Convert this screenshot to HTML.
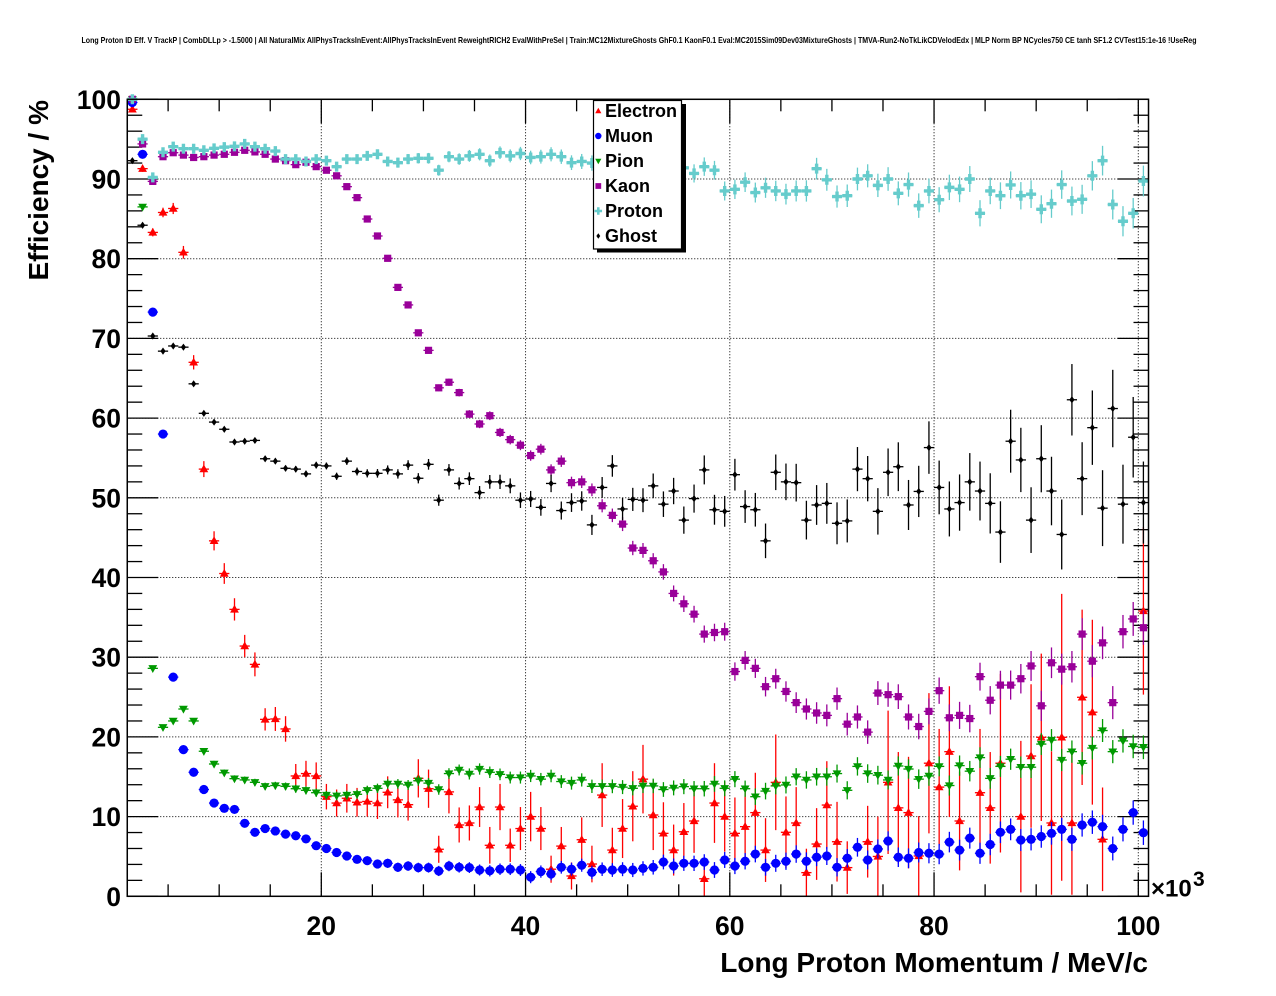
<!DOCTYPE html>
<html>
<head>
<meta charset="utf-8">
<style>
html,body{margin:0;padding:0;background:#fff;}
svg{display:block;}
text{font-family:"Liberation Sans",Arial,Helvetica,sans-serif;font-weight:bold;fill:#000;}
</style>
</head>
<body>
<svg id="c" xmlns="http://www.w3.org/2000/svg" width="1276" height="996" viewBox="0 0 1276 996">
<rect x="0" y="0" width="1276" height="996" fill="#ffffff"/>
<text x="639" y="43" font-size="8.5" text-anchor="middle" textLength="1115" lengthAdjust="spacingAndGlyphs">Long Proton ID Eff. V TrackP | CombDLLp &gt; -1.5000 | All NaturalMix AllPhysTracksInEvent:AllPhysTracksInEvent ReweightRICH2 EvalWithPreSel | Train:MC12MixtureGhosts GhF0.1 KaonF0.1 Eval:MC2015Sim09Dev03MixtureGhosts | TMVA-Run2-NoTkLikCDVelodEdx | MLP Norm BP NCycles750 CE tanh SF1.2 CVTest15:1e-16 !UseReg</text>
<g id="grid" stroke="#000" stroke-width="1" stroke-dasharray="1,2" fill="none"></g>
<g id="axes" stroke="#000" stroke-width="1.3" fill="none"></g>
<g id="data"></g>
<rect x="127.26" y="99.3" width="1021.25" height="797" fill="none" stroke="#000" stroke-width="1.5"/>

<!-- Y labels -->
<g font-size="26.5" text-anchor="end">
<text x="121" y="905.8">0</text>
<text x="121" y="826.1">10</text>
<text x="121" y="746.4">20</text>
<text x="121" y="666.7">30</text>
<text x="121" y="587.0">40</text>
<text x="121" y="507.3">50</text>
<text x="121" y="427.6">60</text>
<text x="121" y="347.9">70</text>
<text x="121" y="268.2">80</text>
<text x="121" y="188.5">90</text>
<text x="121" y="108.8">100</text>
</g>
<!-- X labels -->
<g font-size="26.5" text-anchor="middle">
<text x="321.3" y="935">20</text>
<text x="525.55" y="935">40</text>
<text x="729.8" y="935">60</text>
<text x="934.05" y="935">80</text>
<text x="1138.3" y="935">100</text>
</g>
<text x="1151" y="896.5" font-size="24">×10</text>
<text x="1193" y="886" font-size="21">3</text>

<text x="1148" y="972" font-size="28" text-anchor="end">Long Proton Momentum / MeV/c</text>
<text transform="translate(48,100) rotate(-90)" font-size="28" text-anchor="end">Efficiency / %</text>

<!-- legend -->
<rect x="597" y="104" width="89" height="148.5" fill="#000"/>
<rect x="593.5" y="100.5" width="88" height="148.5" fill="#fff" stroke="#000" stroke-width="1.2"/>
<g id="leg"></g>
<g font-size="18">
<text x="605" y="117">Electron</text>
<text x="605" y="142">Muon</text>
<text x="605" y="167">Pion</text>
<text x="605" y="192">Kaon</text>
<text x="605" y="217">Proton</text>
<text x="605" y="242">Ghost</text>
</g>
</svg>
<script>
(function(){
const NS="http://www.w3.org/2000/svg";
const svg=document.getElementById('c');
const X=v=>117.05+10.2125*v, Y=v=>896.3-7.97*v;
function mk(tag,a,p){const e=document.createElementNS(NS,tag);for(const k in a)e.setAttribute(k,a[k]);p.appendChild(e);return e;}
const gGrid=document.getElementById('grid'), gData=document.getElementById('data'), gAx=document.getElementById('axes'), gLeg=document.getElementById('leg');
for(let v=10;v<100;v+=10){const y=Y(v);mk('line',{x1:X(1),x2:X(101),y1:y,y2:y},gGrid);}
for(let v=20;v<=100;v+=20){const x=X(v);mk('line',{x1:x,x2:x,y1:Y(100),y2:Y(0)},gGrid);}
for(let v=5;v<=100;v+=5){const x=X(v),L=(v%20)?12:24;
 mk('line',{x1:x,x2:x,y1:Y(0),y2:Y(0)-L},gAx);
 mk('line',{x1:x,x2:x,y1:Y(100),y2:Y(100)+L},gAx);}
for(let v=0;v<=100;v+=2){const y=Y(v),L=(v%10)?15:31;
 mk('line',{x1:X(1),x2:X(1)+L,y1:y,y2:y},gAx);
 mk('line',{x1:X(101),x2:X(101)-L,y1:y,y2:y},gAx);}

function marker(type,x,y,col,s,p){
 s=s||1;
 if(type==='tu'){mk('polygon',{points:(x)+','+(y-4.6*s)+' '+(x+4.4*s)+','+(y+3.2*s)+' '+(x-4.4*s)+','+(y+3.2*s),fill:col},p);}
 else if(type==='td'){mk('polygon',{points:(x-4.4*s)+','+(y-3.2*s)+' '+(x+4.4*s)+','+(y-3.2*s)+' '+(x)+','+(y+4.6*s),fill:col},p);}
 else if(type==='c'){mk('circle',{cx:x,cy:y,r:4.6*s,fill:col},p);}
 else if(type==='s'){mk('rect',{x:x-3.6*s,y:y-3.6*s,width:7.2*s,height:7.2*s,fill:col},p);}
 else if(type==='x'){const a=5*s,b=1.7*s;
  mk('path',{d:'M'+(x-a)+' '+(y-b)+'H'+(x-b)+'V'+(y-a)+'H'+(x+b)+'V'+(y-b)+'H'+(x+a)+'V'+(y+b)+'H'+(x+b)+'V'+(y+a)+'H'+(x-b)+'V'+(y+b)+'H'+(x-a)+'Z',fill:col},p);}
 else if(type==='d'){mk('polygon',{points:(x)+','+(y-3.6*s)+' '+(x+2.6*s)+','+(y)+' '+(x)+','+(y+3.6*s)+' '+(x-2.6*s)+','+(y),fill:col},p);}
}
function series(vals,errf,col,type){
 const g=mk('g',{stroke:col,'stroke-width':1.3,fill:'none'},gData);
 const gm=mk('g',{},gData);
 vals.forEach((v,i)=>{ if(v===null||v===undefined)return;
  const c=i+1.5,x=X(c),y=Y(v),e=errf(i);
  const y1=Y(Math.max(0,v-e)),y2=Y(Math.min(100,v+e));
  mk('line',{x1:X(c-0.5),x2:X(c+0.5),y1:y,y2:y},g);
  if(Math.abs(y1-y2)>0.5)mk('line',{x1:x,x2:x,y1:y1,y2:y2},g);
  marker(type,x,y,col,1,gm);
 });
}
const E=[98.75,91.3,83.3,85.8,86.3,80.8,67.0,53.6,44.6,40.5,
36.0,31.4,29.1,22.2,22.25,21.0,15.1,15.4,15.1,12.5,
11.7,12.3,11.8,11.9,11.7,13.05,12.1,11.5,14.8,13.5,
5.9,13.1,8.95,9.2,11.2,6.4,11.2,6.4,8.5,10.0,
8.5,3.4,6.3,2.55,7.1,4.05,12.7,5.8,8.5,11.3,
14.7,10.2,7.9,5.8,8.1,9.45,2.2,11.7,10.0,7.9,
8.74,10.5,5.8,14.3,8.03,9.2,2.97,6.56,11.45,6.85,
3.6,null,6.85,5.0,14.3,11.1,10.5,5.06,16.7,13.7,
18.15,9.45,null,13.0,11.1,16.7,null,10.0,17.6,19.95,
9.2,19.95,9.2,24.97,23.1,7.15,null,null,null,35.8];
const Ee=[0.3,0.4,0.5,0.6,0.7,0.8,0.9,1.0,1.2,1.3,
1.4,1.4,1.5,1.4,1.5,1.6,1.5,1.6,1.7,1.6,
1.7,1.8,1.8,1.9,2.0,2.0,2.2,2.0,2.4,2.4,
1.7,2.7,2.2,2.2,2.5,2.3,2.9,2.1,2.7,3.1,
2.7,1.7,2.4,1.7,2.8,2.3,4.0,2.8,3.7,4.4,
4.3,4.4,3.9,3.2,3.6,4.0,2.3,5.0,4.4,4.5,
4.5,5.0,4.0,6.0,4.5,4.5,3.0,4.5,5.5,5.0,
3.3,0,4.5,5.0,9.0,7.0,7.0,5.0,8.8,7.3,
8.2,6.2,0,8.0,7.0,11.2,0,9.5,9.0,10.5,
9.0,18.0,9.0,11.0,11.6,6.5,0,0,0,10.5];
const M=[99.6,93.1,73.3,58.0,27.5,18.4,15.56,13.4,11.7,11.04,
10.9,9.16,8.03,8.5,8.2,7.8,7.6,7.2,6.35,6.0,
5.5,5.06,4.64,4.47,4.05,4.14,3.64,3.8,3.6,3.6,
3.18,3.8,3.64,3.6,3.3,3.2,3.4,3.4,3.3,2.4,
3.1,2.8,3.64,3.4,3.9,3.0,3.4,3.3,3.4,3.3,
3.5,3.64,4.3,3.8,4.14,4.14,4.3,3.3,4.56,3.8,
4.4,5.3,3.64,4.14,4.4,5.3,4.4,4.9,5.06,3.64,
4.77,6.15,4.56,5.94,6.94,4.9,4.77,5.5,5.4,5.3,
6.8,5.8,7.3,5.4,6.5,8.03,8.4,7.06,7.15,7.5,
7.9,8.4,7.15,8.95,9.3,8.74,6.0,8.4,10.5,7.98];
const P=[100,86.5,28.6,21.2,22.0,23.5,22.0,18.2,16.6,15.5,
14.76,14.6,14.3,13.8,13.9,13.8,13.5,13.3,13.0,12.7,
12.6,12.7,12.8,13.3,13.55,14.1,14.1,13.97,14.5,14.2,
13.4,15.4,15.85,15.35,15.97,15.56,15.3,14.9,14.9,15.1,
14.7,15.1,14.4,14.2,14.6,13.8,13.8,13.8,13.7,13.55,
13.85,13.85,13.4,13.6,13.76,13.5,13.5,14.1,13.55,14.7,
13.5,12.5,13.2,13.85,13.97,15.0,14.6,15.0,15.0,15.4,
13.3,16.3,15.4,15.2,14.6,16.35,15.97,14.7,15.1,16.3,
13.9,16.4,15.7,17.4,14.8,16.3,17.2,16.2,16.2,19.1,
19.6,17.1,18.15,16.7,18.6,20.8,18.15,19.5,18.8,18.7];
const K=[100,94.4,89.7,92.8,93.3,93.0,92.7,92.8,93.0,93.1,
93.35,93.6,93.4,93.1,92.5,92.3,91.8,92.1,91.55,91.1,
90.4,89.04,87.66,84.98,82.85,80.05,76.4,74.2,70.7,68.5,
63.8,64.5,63.2,60.5,59.26,60.3,58.2,57.3,56.6,55.3,
56.1,53.5,54.6,51.9,52.0,51.0,49.0,47.8,46.7,43.7,
43.4,42.1,40.7,38.0,36.7,35.4,32.9,33.1,33.2,28.2,
29.6,28.6,26.3,27.3,25.7,24.3,23.5,23.0,22.7,24.8,
21.6,22.5,20.6,25.5,25.3,25.05,22.5,21.3,23.2,25.8,
22.4,22.7,22.3,27.56,24.6,26.5,26.5,27.3,28.9,23.9,
29.3,28.5,28.8,32.9,29.5,31.8,24.3,33.2,34.8,33.7];
const PR=[100,95.0,90.2,93.35,94.06,93.8,93.8,93.6,93.85,94.0,
94.1,94.4,94.06,93.8,93.5,92.5,92.5,92.2,92.5,92.3,
91.55,92.5,92.5,92.9,93.1,92.2,92.05,92.5,92.6,92.6,
91.1,92.8,92.5,92.9,93.1,92.3,93.3,92.9,93.2,92.7,
92.8,93.1,92.8,92.05,92.2,92.0,92.2,92.0,92.3,92.1,
92.5,92.3,92.2,92.0,91.4,90.7,91.55,91.1,88.5,88.7,
89.6,88.3,88.9,88.5,88.1,88.5,88.5,91.3,89.9,87.8,
87.9,90.0,90.4,89.2,90.0,88.2,89.3,86.66,88.5,87.4,
88.95,88.7,90.0,85.7,88.5,87.9,89.25,87.9,88.1,86.2,
86.9,89.3,87.24,87.45,90.4,92.3,86.8,84.7,85.7,89.75];
const G=[92.3,84.2,70.3,68.4,69.05,68.9,64.3,60.6,59.5,58.6,
57.0,57.1,57.2,54.9,54.6,53.7,53.6,53.0,54.1,54.0,
52.7,54.6,53.3,53.07,53.07,53.5,53.0,54.1,52.45,54.2,
49.7,53.5,51.8,52.4,50.65,52.0,52.0,51.5,49.7,49.85,
48.8,51.8,48.4,49.4,49.6,46.6,51.3,54.0,48.6,49.8,
49.7,51.5,49.2,50.85,47.2,49.9,53.5,48.5,48.3,52.9,
48.9,48.5,44.6,53.2,52.0,51.9,47.2,49.1,49.3,46.8,
47.1,53.6,52.4,48.3,53.2,53.9,49.1,50.8,56.3,51.3,
48.6,49.4,52.0,50.85,49.3,45.7,57.1,54.75,47.2,54.9,
50.85,45.4,62.3,52.4,58.8,48.7,61.2,49.2,57.6,49.4];

const cE='#ff0000',cM='#0000ff',cP='#009900',cK='#990099',cPr='#66cccc',cG='#000000';
series(E,i=>Ee[i],cE,'tu');
series(M,i=>i<2?0.2:0.25+0.013*i,cM,'c');
series(P,i=>0.3+0.012*i,cP,'td');
series(K,i=>i<25?0.3:0.3+0.025*(i-25),cK,'s');
series(PR,i=>0.15+0.018*i,cPr,'x');
series(G,i=>0.25+0.0005*i*i,cG,'d');

const lx=598.3;
marker('tu',lx,111,cE,0.7,gLeg);
marker('c',lx,136,cM,0.7,gLeg);
marker('td',lx,161,cP,0.7,gLeg);
marker('s',lx,186,cK,0.8,gLeg);
marker('x',lx,211,cPr,0.75,gLeg);
marker('d',lx,236,cG,0.75,gLeg);
})();
</script>
</body>
</html>
